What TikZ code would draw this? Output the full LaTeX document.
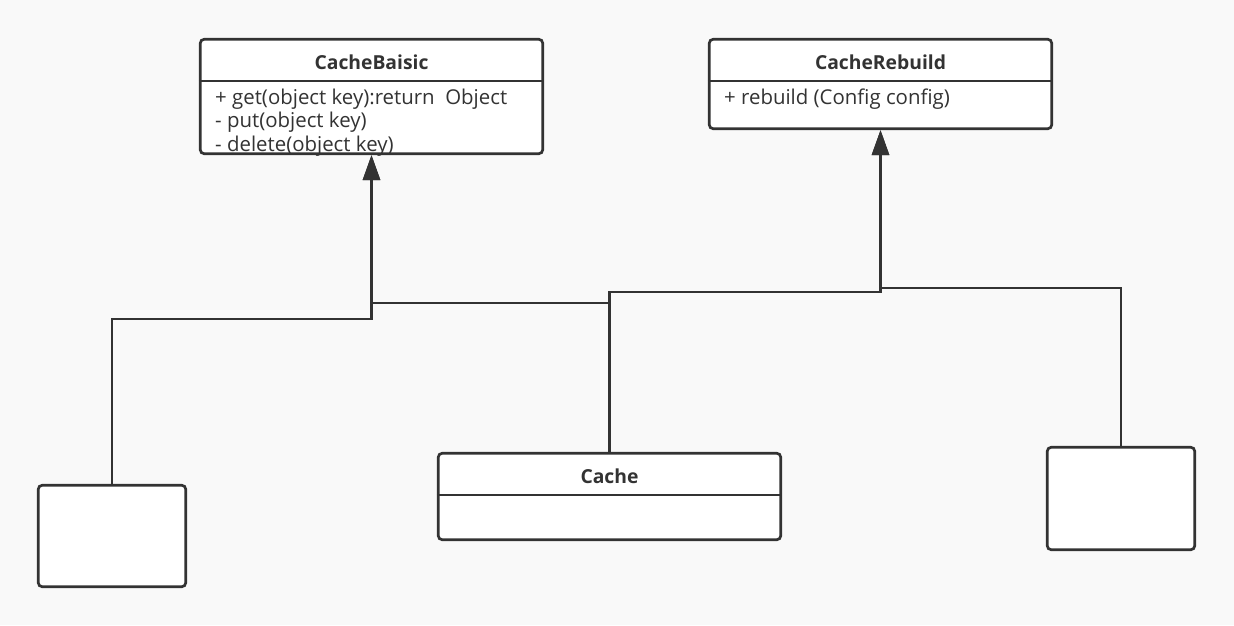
\documentclass[tikz,border=0pt]{standalone}
\usepackage{fontspec}
\setmainfont{Open Sans}
\usetikzlibrary{arrows.meta}
\definecolor{trait}{HTML}{333333}
\definecolor{fond}{HTML}{F9F9F9}
\tikzset{
    classe/.style={draw=trait, fill=white, line width=2.7pt, rounded corners=4pt,
        minimum width=342.5pt, inner sep=0pt},
    vide/.style={draw=trait, fill=white, line width=2.7pt, rounded corners=4pt,
        minimum width=147.5pt, inner sep=0pt},
    titre/.style={font=\bfseries\fontsize{19.3}{22}\selectfont, text=trait},
    membres/.style={font=\fontsize{20.4}{23.5}\selectfont, text=trait,
        align=left, anchor=west, inner sep=0pt},
    separe/.style={draw=trait, line width=2.7pt},
    herite/.style={draw=trait, line width=2.7pt,
        -{Triangle[length=25pt, width=17pt]}}
}

\begin{document}
\begin{tikzpicture}[x=1pt, y=-1pt]

	\fill[fond] (0,0) rectangle (1234,625);
	\useasboundingbox (0,0) rectangle (1234,625);

	\def\sep{43pt}

		% Classe CacheBaisic
		\node[classe, minimum height=114.5pt] (baisic) at (371.5,96.5) {};
		\node[titre] (baisictitre) at (371.5,62) {CacheBaisic};
		\draw[separe] ([yshift=-\sep]baisic.north west) -- ([yshift=-\sep]baisic.north east);
		\node[membres] (baisicops) at (215,122.5)
			{+ get(object key):return\ \ Object\\- put(object key)\\- delete(object key)};

		% Classe CacheRebuild
		\node[classe, minimum height=89.5pt] (rebuild) at (880.5,84) {};
		\node[titre] (rebuildtitre) at (880.5,62) {CacheRebuild};
		\draw[separe] ([yshift=-\sep]rebuild.north west) -- ([yshift=-\sep]rebuild.north east);
		\node[membres] (rebuildops) at (724,99) {+ rebuild (Config config)};

		% Classe Cache
		\node[classe, minimum height=86.5pt] (cache) at (609.5,496.5) {};
		\node[titre] (cachetitre) at (609.5,476) {Cache};
		\draw[separe] ([yshift=-\sep]cache.north west) -- ([yshift=-\sep]cache.north east);

		% Boites vides
		\node[vide, minimum height=101.5pt] (gauche) at (112,536) {};
		\node[vide, minimum height=102.5pt] (droite) at (1121,498.5) {};

	% Coudes des liens
	\coordinate (coudeG) at (371.5,319);
	\coordinate (coudeC) at (371.5,303);
	\coordinate (coudeR) at (880.5,292);
	\coordinate (coudeD) at (880.5,288);

		% Heritages
		\draw[herite] (gauche.north) |- (coudeG) -- (baisic.south);
		\draw[herite] (cache.north) |- (coudeC) -- (baisic.south);
		\draw[herite] (cache.north) |- (coudeR) -- (rebuild.south);
		\draw[herite] (droite.north) |- (coudeD) -- (rebuild.south);

\end{tikzpicture}
\end{document}
